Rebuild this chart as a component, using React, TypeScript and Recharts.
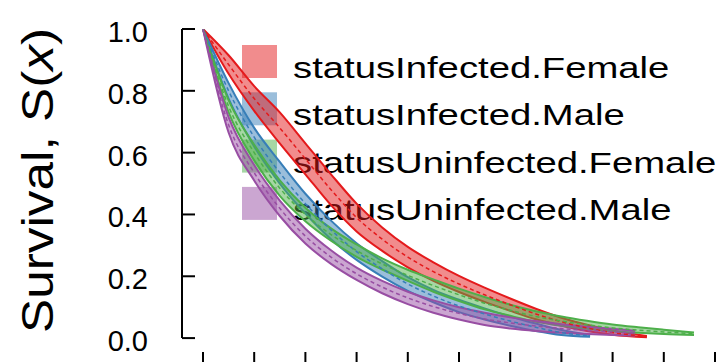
import { ComposedChart, Area, Line, XAxis, YAxis, ReferenceLine } from 'recharts';

// fitted survival curves with confidence bands, one set per status/sex group
const groupNames = [
  'statusInfected.Female',
  'statusInfected.Male',
  'statusUninfected.Female',
  'statusUninfected.Male',
];
const groupColors = ['#E41A1C', '#377EB8', '#4DAF4A', '#984EA3'];

const infFemaleTime = [0, 0.5, 1, 1.5, 2, 2.5, 3, 3.5, 4, 4.5, 5, 5.5, 6, 6.5, 7, 7.5, 8, 8.67];
const infFemaleEst = [1, 0.885, 0.775, 0.68, 0.58, 0.48, 0.39, 0.32, 0.262, 0.215, 0.175, 0.14, 0.108, 0.078, 0.053, 0.033, 0.018, 0.005];
const infFemaleLow = [1, 0.855, 0.735, 0.63, 0.53, 0.43, 0.345, 0.282, 0.229, 0.185, 0.149, 0.117, 0.088, 0.061, 0.04, 0.023, 0.011, 0.003];
const infFemaleHigh = [1, 0.915, 0.815, 0.73, 0.63, 0.53, 0.435, 0.358, 0.295, 0.245, 0.201, 0.163, 0.128, 0.095, 0.066, 0.043, 0.025, 0.007];

const infMaleTime = [0, 0.5, 1, 1.5, 2, 2.5, 3, 3.5, 4, 4.5, 5, 5.5, 6, 6.5, 7, 7.56];
const infMaleEst = [1, 0.8, 0.65, 0.535, 0.435, 0.35, 0.28, 0.224, 0.175, 0.136, 0.104, 0.078, 0.055, 0.035, 0.018, 0.007];
const infMaleLow = [1, 0.775, 0.62, 0.5, 0.403, 0.32, 0.253, 0.199, 0.153, 0.116, 0.084, 0.06, 0.04, 0.023, 0.01, 0.004];
const infMaleHigh = [1, 0.825, 0.68, 0.57, 0.467, 0.38, 0.307, 0.249, 0.197, 0.156, 0.124, 0.096, 0.07, 0.047, 0.026, 0.01];

const uninfFemaleTime = [0, 0.5, 1, 1.5, 2, 2.5, 3, 3.5, 4, 4.5, 5, 5.5, 6, 6.5, 7, 7.5, 8, 8.5, 9, 9.59];
const uninfFemaleEst = [1, 0.75, 0.6, 0.485, 0.4, 0.335, 0.283, 0.24, 0.203, 0.17, 0.14, 0.113, 0.09, 0.07, 0.055, 0.043, 0.033, 0.026, 0.02, 0.014];
const uninfFemaleLow = [1, 0.73, 0.575, 0.46, 0.378, 0.315, 0.263, 0.222, 0.185, 0.15, 0.12, 0.093, 0.072, 0.053, 0.04, 0.03, 0.022, 0.017, 0.013, 0.01];
const uninfFemaleHigh = [1, 0.77, 0.625, 0.51, 0.422, 0.355, 0.303, 0.258, 0.221, 0.19, 0.16, 0.133, 0.108, 0.087, 0.07, 0.056, 0.044, 0.035, 0.027, 0.018];

const uninfMaleTime = [0, 0.5, 1, 1.5, 2, 2.5, 3, 3.5, 4, 4.5, 5, 5.5, 6, 6.5, 7, 7.5, 8, 8.44];
const uninfMaleEst = [1, 0.69, 0.535, 0.42, 0.33, 0.262, 0.208, 0.165, 0.13, 0.102, 0.08, 0.062, 0.049, 0.039, 0.031, 0.025, 0.02, 0.016];
const uninfMaleLow = [1, 0.665, 0.51, 0.395, 0.306, 0.24, 0.188, 0.145, 0.11, 0.082, 0.06, 0.042, 0.031, 0.023, 0.017, 0.013, 0.01, 0.008];
const uninfMaleHigh = [1, 0.715, 0.56, 0.445, 0.354, 0.284, 0.228, 0.185, 0.15, 0.122, 0.1, 0.082, 0.067, 0.055, 0.045, 0.037, 0.03, 0.024];

const xTicks = [0, 1, 2, 3, 4, 5, 6, 7, 8, 9, 10];
const yTicks = [0, 0.2, 0.4, 0.6, 0.8, 1.0];

const FONT = '"Liberation Sans", Arial, sans-serif';

const toRows = (t: number[], est: number[], low: number[], high: number[]) =>
  t.map((x, i) => ({ t: x, est: est[i], band: [low[i], high[i]] }));

const groups = [
  toRows(infFemaleTime, infFemaleEst, infFemaleLow, infFemaleHigh),
  toRows(infMaleTime, infMaleEst, infMaleLow, infMaleHigh),
  toRows(uninfFemaleTime, uninfFemaleEst, uninfFemaleLow, uninfFemaleHigh),
  toRows(uninfMaleTime, uninfMaleEst, uninfMaleLow, uninfMaleHigh),
];

// x labels fall below the visible area, only the tick marks show
const XTick = ({ x, y }: any) => (
  <line x1={x} x2={x} y1={y} y2={y + 12} stroke="#000" strokeWidth={2} />
);

// inward ticks on the y axis, labels to the left
const YTick = ({ x, y, payload }: any) => (
  <g>
    <line x1={x} x2={x + 13} y1={y} y2={y} stroke="#000" strokeWidth={2} />
    <text x={x - 34} y={y + 13} textAnchor="end" fontSize={29} fontFamily={FONT} fill="#000">
      {payload.value.toFixed(1)}
    </text>
  </g>
);

const GroupLegend = () => (
  <g>
    {groupNames.map((name, i) => {
      const top = 45 + i * 47.3;
      return (
        <g key={name}>
          <rect x={242} y={top} width={35} height={33} fill={groupColors[i]} fillOpacity={0.5} />
          <text
            transform={`translate(293, ${top + 33}) scale(1.32, 1)`}
            fontSize={29}
            fontFamily={FONT}
            fill="#000"
          >
            {name}
          </text>
        </g>
      );
    })}
  </g>
);

const App = () => (
  <div style={{ position: 'absolute', left: 0, top: 0, background: '#fff' }}>
    <ComposedChart width={723} height={362} margin={{ top: 29, right: 8, bottom: 0, left: 0 }}>
      <XAxis
        type="number"
        dataKey="t"
        domain={[-0.41, 10]}
        ticks={xTicks}
        allowDataOverflow
        height={10}
        axisLine={false}
        tickLine={false}
        tickSize={0}
        tickMargin={0}
        tick={<XTick />}
      />
      <YAxis
        type="number"
        domain={[-0.045, 1]}
        ticks={yTicks}
        allowDataOverflow
        width={182}
        axisLine={false}
        tickLine={false}
        tickSize={0}
        tickMargin={0}
        tick={<YTick />}
      />
      <ReferenceLine
        segment={[{ x: -0.41, y: 0 }, { x: -0.41, y: 1 }]}
        stroke="#000"
        strokeWidth={2}
      />
      {groups.map((rows, i) => (
        <Area
          key={`band-${i}`}
          data={rows}
          dataKey="band"
          type="monotone"
          fill={groupColors[i]}
          fillOpacity={0.5}
          stroke={groupColors[i]}
          strokeWidth={2}
          dot={false}
          activeDot={false}
          isAnimationActive={false}
        />
      ))}
      {groups.map((rows, i) => (
        <Line
          key={`est-${i}`}
          data={rows}
          dataKey="est"
          type="monotone"
          stroke={groupColors[i]}
          strokeWidth={1.5}
          strokeDasharray="4 3"
          dot={false}
          activeDot={false}
          isAnimationActive={false}
        />
      ))}
      <text
        x={53}
        y={180.5}
        transform="rotate(-90, 53, 180.5)"
        textAnchor="middle"
        fontSize={44}
        fontFamily={FONT}
        fill="#000"
        textLength={305}
        lengthAdjust="spacingAndGlyphs"
      >
        Survival, S(<tspan fontStyle="italic">x</tspan>)
      </text>
      <GroupLegend />
    </ComposedChart>
  </div>
);

export default App;
